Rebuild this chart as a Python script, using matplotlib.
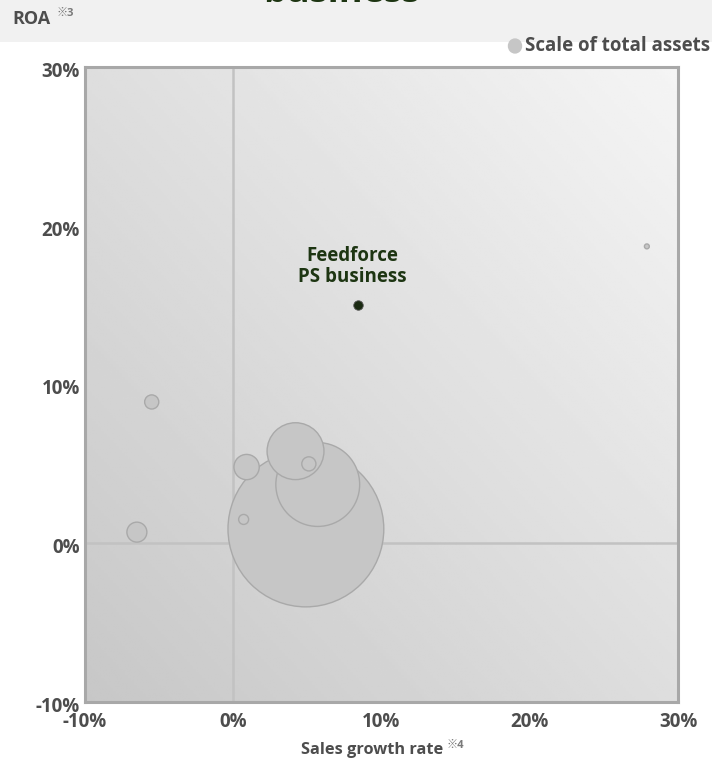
import numpy as np
import matplotlib
matplotlib.use("Agg")
import matplotlib.pyplot as plt

plt.rcParams['font.family'] = ['Open Sans', 'Noto Sans CJK JP', 'DejaVu Sans']

# ---- data -------------------------------------------------------------
# peer companies: sales growth rate (%), ROA (%), total assets (relative scale)
peer_growth = [4.9, 5.7, 4.2, 5.1, 0.9, 0.7, -5.5, -6.5, 27.9]
peer_roa = [0.9, 3.7, 5.8, 5.0, 4.8, 1.5, 8.9, 0.7, 18.7]
peer_assets = [608, 176, 81, 5, 16, 2.5, 5, 10, 0.6]

feedforce_growth = 8.4
feedforce_roa = 15.0
feedforce_assets = 0.9
feedforce_label = "Feedforce\nPS business"

x_ticks = [-10, 0, 10, 20, 30]
y_ticks = [-10, 0, 10, 20, 30]
tick_labels = ["-10%", "0%", "10%", "20%", "30%"]

# ---- figure -------------------------------------------------------------
W, H = 712, 762
fig = plt.figure(figsize=(W / 100, H / 100), dpi=100)
fig.patch.set_facecolor("white")


def fx(px):
    return px / W


def fy(py):
    return 1 - py / H


# top grey band
band = fig.add_axes([0, fy(42), 1, 42 / H])
band.set_facecolor("#f1f1f1")
band.set_xticks([])
band.set_yticks([])
for s in band.spines.values():
    s.set_visible(False)

# title line, running off the top edge
fig.text(fx(341), fy(1.5), "business", ha="center", va="baseline",
         fontsize=26, fontweight="bold", color="#1d3512")

label_color = "#4d4d4d"
note_color = "#7a7a7a"
fs = 13.5
fig.text(fx(12), fy(19), "ROA", ha="left", va="center",
         fontsize=13, fontweight="bold", color=label_color)
fig.text(fx(57), fy(13), "※3", ha="left", va="center",
         fontsize=8, fontweight="bold", color=note_color)

# plot area
left, right, top, bottom = 85, 678, 67, 702
ax = fig.add_axes([fx(left), fy(bottom), (right - left) / W, (bottom - top) / H])
ax.set_xlim(-10, 30)
ax.set_ylim(-10, 30)

# diagonal background gradient
gx, gy = np.meshgrid(np.linspace(0, 1, 200), np.linspace(0, 1, 200))
grad = 0.78 + 0.18 * (gx + gy) / 2
ax.imshow(grad, cmap="gray", vmin=0, vmax=1, origin="lower",
          extent=[-10, 30, -10, 30], aspect="auto", zorder=0)

ax.axvline(0, color="#c2c2c2", lw=1.8, zorder=1)
ax.axhline(0, color="#c2c2c2", lw=1.8, zorder=1)

for sp in ax.spines.values():
    sp.set_color("#a8a8a8")
    sp.set_linewidth(2.2)

# bubbles: marker area proportional to total assets
k = 20.7
ax.scatter(peer_growth, peer_roa, s=[a * k for a in peer_assets],
           facecolor="#c6c6c6", edgecolor="#a9a9a9", linewidth=1.0, zorder=3)
ax.scatter([feedforce_growth], [feedforce_roa], s=[feedforce_assets * k * 2.5],
           facecolor="#1a2a12", edgecolor="#555555", linewidth=0.6, zorder=4)
ax.annotate(feedforce_label, (feedforce_growth, feedforce_roa),
            xytext=(-4, 13), textcoords="offset points", ha="center",
            va="bottom", fontsize=13.5, fontweight="bold", color="#1d3512",
            linespacing=1.1, zorder=5)

ax.set_xticks(x_ticks)
ax.set_yticks(y_ticks)
ax.set_xticklabels([])
ax.set_yticklabels([])
ax.tick_params(length=0)

# tick labels
for v, t in zip(x_ticks, tick_labels):
    xp = left + (v + 10) / 40 * (right - left)
    fig.text(fx(xp), fy(722), t, ha="center", va="center",
             fontsize=fs, fontweight="bold", color=label_color)
for v, t in zip(y_ticks, tick_labels):
    yp = bottom - (v + 10) / 40 * (bottom - top)
    fig.text(fx(80), fy(yp + 5), t, ha="right", va="center",
             fontsize=fs, fontweight="bold", color=label_color)

fig.text(fx(372), fy(750), "Sales growth rate", ha="center", va="center",
         fontsize=11.8, fontweight="bold", color=label_color)
fig.text(fx(447), fy(745), "※4", ha="left", va="center",
         fontsize=8, fontweight="bold", color=note_color)

# legend
fig.add_artist(plt.Circle((fx(515), fy(46)), 6.5 / W, transform=fig.transFigure,
                          color="#c6c6c6", zorder=5))
fig.text(fx(710), fy(46), "Scale of total assets", ha="right", va="center",
         fontsize=fs, fontweight="bold", color=label_color)

fig.savefig("out.png", dpi=100)
